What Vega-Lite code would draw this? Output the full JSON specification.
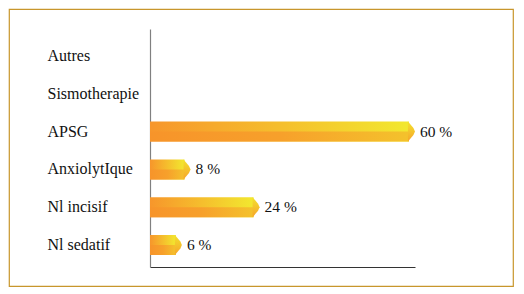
{
  "$schema": "https://vega.github.io/schema/vega-lite/v6.json",
  "width": 504,
  "height": 277,
  "autosize": "none",
  "padding": {"left": 9, "top": 9, "right": 11, "bottom": 8},
  "background": "white",
  "config": {"view": {"stroke": "#C8962C", "strokeWidth": 1.2}, "font": "Liberation Serif"},
  "data": {"values": [
    {"cat": "Autres", "pct": null, "label": ""},
    {"cat": "Sismotherapie", "pct": null, "label": ""},
    {"cat": "APSG", "pct": 60, "label": "60 %"},
    {"cat": "AnxiolytIque", "pct": 8, "label": "8 %"},
    {"cat": "Nl incisif", "pct": 24, "label": "24 %"},
    {"cat": "Nl sedatif", "pct": 6, "label": "6 %"}
  ]},
  "encoding": {
    "y": {
      "field": "cat", "type": "nominal", "sort": null,
      "scale": {"domain": ["Autres", "Sismotherapie", "APSG", "AnxiolytIque", "Nl incisif", "Nl sedatif"], "range": [20, 258], "paddingInner": 0.471, "paddingOuter": 0.3836, "align": 0.586},
      "axis": {"title": null, "orient": "left", "offset": -141, "ticks": false, "labelAlign": "left", "labelPadding": 103, "labelFontSize": 16, "labelColor": "#111111", "labelFont": "Liberation Serif", "domainColor": "#808080", "domainWidth": 1.2}
    },
    "x": {
      "field": "pct", "type": "quantitative",
      "scale": {"domain": [0, 61.4], "range": [141, 406], "nice": false, "zero": true},
      "axis": {"title": null, "labels": false, "ticks": false, "grid": false, "offset": -19, "domainColor": "#333333", "domainWidth": 1}
    }
  },
  "layer": [
    {"mark": {"type": "bar", "color": {"gradient": "linear", "x1": 0, "x2": 1, "y1": 0, "y2": 0, "stops": [{"offset": 0, "color": "#F7962B"}, {"offset": 0.5, "color": "#F5BE2D"}, {"offset": 1, "color": "#F2E82F"}]}}},
    {"mark": {"type": "bar", "height": {"band": 0.5}, "yOffset": 5, "color": {"gradient": "linear", "x1": 0, "x2": 1, "y1": 0, "y2": 0, "stops": [{"offset": 0, "color": "#F7942A"}, {"offset": 0.5, "color": "#F7A02B"}, {"offset": 1, "color": "#F4C22C"}]}}},
    {"mark": {"type": "point", "shape": "M -0.1 -1 L 0.45 -0.35 L 0.6 0 L 0.45 0.35 L -0.1 1 Z", "size": 400, "filled": true, "opacity": 1, "color": {"gradient": "linear", "x1": 0, "x2": 0, "y1": 0, "y2": 1, "stops": [{"offset": 0, "color": "#F3E22E"}, {"offset": 1, "color": "#F6A42A"}]}}},
    {"mark": {"type": "text", "align": "left", "baseline": "middle", "dx": 11, "fontSize": 15.5, "color": "#111111", "font": "Liberation Serif"}, "encoding": {"text": {"field": "label"}}}
  ]
}
